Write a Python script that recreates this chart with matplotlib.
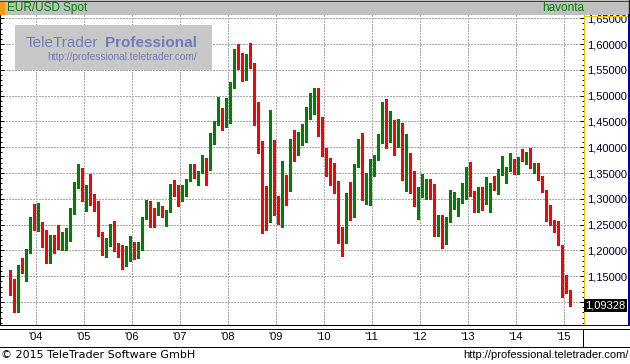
import matplotlib
matplotlib.use("Agg")
import matplotlib.pyplot as plt
from matplotlib.patches import Rectangle
from matplotlib.ticker import FixedLocator, MultipleLocator
import numpy as np
import pandas as pd

# monthly EUR/USD candles, Jul 2003 .. Mar 2015
months = pd.period_range("2003-07", periods=141, freq="M")

opens = [
    1.152, 1.135, 1.101, 1.167, 1.159, 1.200,
    1.250, 1.247, 1.249, 1.228, 1.198, 1.224, 1.220, 1.207, 1.219, 1.244, 1.283, 1.332,
    1.358, 1.306, 1.323, 1.298, 1.286, 1.231, 1.210, 1.212, 1.236, 1.203, 1.200, 1.180,
    1.185, 1.216, 1.192, 1.212, 1.263, 1.282, 1.280, 1.278, 1.282, 1.269, 1.277, 1.325,
    1.319, 1.304, 1.324, 1.338, 1.366, 1.347, 1.355, 1.369, 1.363, 1.427, 1.448, 1.464,
    1.459, 1.485, 1.519, 1.577, 1.562, 1.556, 1.575, 1.560, 1.471, 1.412, 1.273, 1.270,
    1.410, 1.282, 1.267, 1.325, 1.324, 1.414, 1.403, 1.425, 1.433, 1.464, 1.472, 1.501,
    1.430, 1.387, 1.364, 1.352, 1.330, 1.232, 1.225, 1.306, 1.271, 1.364, 1.399, 1.300,
    1.330, 1.369, 1.381, 1.417, 1.482, 1.440, 1.451, 1.438, 1.440, 1.340, 1.385, 1.344,
    1.296, 1.310, 1.333, 1.334, 1.325, 1.238, 1.264, 1.232, 1.259, 1.286, 1.296, 1.300,
    1.321, 1.360, 1.307, 1.282, 1.317, 1.300, 1.300, 1.331, 1.323, 1.354, 1.358, 1.359,
    1.377, 1.350, 1.381, 1.378, 1.387, 1.364, 1.369, 1.340, 1.317, 1.265, 1.247, 1.247,
    1.210, 1.132, 1.119,
]
highs = [
    1.162, 1.144, 1.172, 1.186, 1.203, 1.264,
    1.290, 1.293, 1.256, 1.240, 1.230, 1.230, 1.250, 1.235, 1.242, 1.281, 1.333, 1.367,
    1.360, 1.327, 1.348, 1.310, 1.295, 1.235, 1.225, 1.252, 1.258, 1.215, 1.210, 1.209,
    1.229, 1.217, 1.217, 1.264, 1.298, 1.296, 1.283, 1.294, 1.287, 1.278, 1.329, 1.337,
    1.327, 1.327, 1.338, 1.368, 1.368, 1.354, 1.385, 1.380, 1.428, 1.451, 1.497, 1.477,
    1.495, 1.526, 1.590, 1.601, 1.582, 1.580, 1.603, 1.563, 1.487, 1.412, 1.325, 1.472,
    1.414, 1.305, 1.374, 1.347, 1.417, 1.434, 1.430, 1.445, 1.478, 1.506, 1.514, 1.514,
    1.458, 1.399, 1.380, 1.369, 1.335, 1.246, 1.311, 1.333, 1.368, 1.416, 1.428, 1.350,
    1.377, 1.386, 1.425, 1.488, 1.494, 1.470, 1.453, 1.455, 1.448, 1.425, 1.388, 1.355,
    1.323, 1.349, 1.339, 1.339, 1.328, 1.269, 1.269, 1.264, 1.317, 1.314, 1.301, 1.331,
    1.362, 1.371, 1.315, 1.324, 1.324, 1.342, 1.331, 1.345, 1.357, 1.383, 1.362, 1.389,
    1.377, 1.382, 1.397, 1.390, 1.399, 1.370, 1.370, 1.344, 1.318, 1.289, 1.260, 1.257,
    1.211, 1.153, 1.124,
]
lows = [
    1.114, 1.080, 1.080, 1.156, 1.140, 1.195,
    1.239, 1.238, 1.207, 1.176, 1.176, 1.195, 1.202, 1.200, 1.201, 1.218, 1.271, 1.322,
    1.296, 1.276, 1.288, 1.277, 1.229, 1.191, 1.187, 1.208, 1.199, 1.188, 1.164, 1.170,
    1.180, 1.183, 1.186, 1.200, 1.262, 1.246, 1.246, 1.269, 1.264, 1.248, 1.275, 1.306,
    1.287, 1.295, 1.306, 1.334, 1.341, 1.326, 1.351, 1.326, 1.356, 1.407, 1.443, 1.433,
    1.440, 1.447, 1.514, 1.552, 1.529, 1.530, 1.554, 1.443, 1.388, 1.234, 1.240, 1.256,
    1.268, 1.251, 1.246, 1.289, 1.316, 1.374, 1.385, 1.405, 1.410, 1.455, 1.464, 1.421,
    1.384, 1.344, 1.327, 1.311, 1.215, 1.189, 1.215, 1.259, 1.265, 1.362, 1.298, 1.290,
    1.288, 1.344, 1.375, 1.408, 1.399, 1.410, 1.385, 1.400, 1.336, 1.315, 1.311, 1.286,
    1.262, 1.304, 1.300, 1.300, 1.228, 1.229, 1.205, 1.213, 1.256, 1.280, 1.266, 1.293,
    1.300, 1.305, 1.275, 1.274, 1.279, 1.290, 1.275, 1.318, 1.310, 1.347, 1.330, 1.354,
    1.348, 1.348, 1.374, 1.367, 1.359, 1.350, 1.337, 1.313, 1.257, 1.250, 1.236, 1.210,
    1.110, 1.117, 1.0933,
]
closes = [
    1.123, 1.101, 1.162, 1.161, 1.199, 1.250,
    1.247, 1.249, 1.230, 1.198, 1.222, 1.221, 1.207, 1.218, 1.244, 1.283, 1.332, 1.358,
    1.306, 1.323, 1.298, 1.288, 1.231, 1.210, 1.213, 1.236, 1.203, 1.201, 1.180, 1.185,
    1.216, 1.192, 1.210, 1.263, 1.282, 1.280, 1.278, 1.282, 1.269, 1.277, 1.325, 1.320,
    1.304, 1.324, 1.337, 1.366, 1.350, 1.355, 1.369, 1.365, 1.427, 1.448, 1.464, 1.459,
    1.485, 1.519, 1.577, 1.563, 1.556, 1.575, 1.562, 1.471, 1.413, 1.273, 1.270, 1.410,
    1.282, 1.267, 1.325, 1.324, 1.414, 1.405, 1.425, 1.433, 1.464, 1.472, 1.501, 1.437,
    1.387, 1.362, 1.353, 1.331, 1.232, 1.226, 1.306, 1.271, 1.364, 1.399, 1.300, 1.334,
    1.369, 1.381, 1.417, 1.482, 1.440, 1.448, 1.438, 1.440, 1.340, 1.385, 1.344, 1.296,
    1.310, 1.333, 1.334, 1.325, 1.236, 1.267, 1.232, 1.259, 1.286, 1.296, 1.300, 1.321,
    1.360, 1.307, 1.282, 1.317, 1.300, 1.301, 1.331, 1.323, 1.354, 1.358, 1.359, 1.377,
    1.350, 1.381, 1.378, 1.387, 1.364, 1.369, 1.340, 1.313, 1.265, 1.254, 1.244, 1.210,
    1.132, 1.119, 1.09328,
]

price_ticks = [1.10, 1.15, 1.20, 1.25, 1.30, 1.35, 1.40, 1.45, 1.50, 1.55, 1.60, 1.65]
year_labels = ["'04", "'05", "'06", "'07", "'08", "'09", "'10", "'11", "'12", "'13", "'14", "'15"]

GREEN = "#008000"
RED = "#ff0000"
GRID = "#a8a8a8"
WM = "#6e7db9"
W, H = 630, 364


def px_rect(x0, y0, x1, y1):
    return [x0 / W, 1 - y1 / H, (x1 - x0) / W, (y1 - y0) / H]


fig = plt.figure(figsize=(6.3, 3.64), dpi=100)
fig.patch.set_facecolor("white")

ax = fig.add_axes(px_rect(0, 15, 584, 325))
o = np.array(opens)
h = np.array(highs)
l = np.array(lows)
c = np.array(closes)
x = np.arange(len(o))
cols = np.where(c >= o, GREEN, RED)

# grid
for p in price_ticks:
    ax.axhline(p, color=GRID, lw=0.72, ls=(0, (2, 2)), zorder=1, antialiased=False)
jan_idx = [i for i, m in enumerate(months) if m.month == 1]
year_x = [i + 0.35 for i in jan_idx]
for xv in year_x:
    ax.axvline(xv, color=GRID, lw=0.72, ls=(0, (2, 2)), zorder=1, antialiased=False)

# candles
ax.vlines(x, l, h, colors=cols, linewidth=0.75, antialiased=False, zorder=3)
ax.bar(x, np.maximum(np.abs(c - o), 0.002), bottom=np.minimum(o, c), width=0.75,
       color=cols, linewidth=0, antialiased=False, zorder=4)

ax.set_xlim(-2.575, 143.425)
ax.set_ylim(1.0556, 1.6564)
ax.set_xticks([])
ax.yaxis.set_major_locator(FixedLocator(price_ticks))
ax.yaxis.set_minor_locator(MultipleLocator(0.01))
ax.set_yticklabels([f"{p:.5f}".replace(".", ",") for p in price_ticks])
ax.tick_params(axis="y", which="both", direction="in", left=True, right=True,
               labelleft=False, labelright=True, color="black", width=0.72)
ax.tick_params(axis="y", which="major", length=2.9, pad=2.2, labelsize=8, labelcolor="#000033")
ax.tick_params(axis="y", which="minor", length=1.45)
for lbl in ax.get_yticklabels():
    lbl.set_fontfamily("Liberation Sans")

ax.spines["top"].set_visible(False)
ax.spines["left"].set_color("black")
ax.spines["left"].set_linewidth(1.44)
ax.spines["right"].set_color("#f0c000")
ax.spines["right"].set_linewidth(0.72)
ax.spines["bottom"].set_color("black")
ax.spines["bottom"].set_linewidth(0.72)

# year labels under the plot
for xv, lab in zip(year_x, year_labels):
    ax.text(xv, -12 / 310, lab, transform=ax.get_xaxis_transform(), ha="center", va="center",
            fontsize=8, family="Liberation Sans", color="black", clip_on=False)

# last price box
ax.text(1.0017, closes[-1], f"{closes[-1]:.5f}".replace(".", ","), transform=ax.get_yaxis_transform(),
        ha="left", va="center", color="white", fontsize=8, family="Liberation Sans",
        bbox=dict(boxstyle="square,pad=0.12", fc="black", ec="none"), zorder=6, clip_on=False)

# overlay in pixel coordinates for the frame and texts
ov = fig.add_axes([0, 0, 1, 1], zorder=10)
ov.set_xlim(0, W)
ov.set_ylim(H, 0)
ov.axis("off")

# header
ov.add_patch(Rectangle((0, 0), W, 15, fc="#c0c0c0", ec="none"))
ov.plot([0, W], [0.5, 0.5], color="#404040", lw=0.72)
ov.plot([629.3, 629.3], [0, 15], color="#202020", lw=1.0)
ov.add_patch(Rectangle((0, 1), 5, 14, fc="#f59b16", ec="none"))
ov.text(7, 8, "EUR/USD Spot", color=GREEN, fontsize=8.5, va="center", ha="left", family="Liberation Sans")
ov.text(542, 8, "havonta", color=GREEN, fontsize=8.5, va="center", ha="left", family="Liberation Sans")

# watermark
ov.add_patch(Rectangle((15, 25), 197, 45, fc="#c8c8c8", ec="none"))
ov.text(26, 46.7, "TeleTrader", fontsize=11, color=WM, va="baseline", ha="left", family="Liberation Sans")
ov.text(197, 46.7, "Professional", fontsize=11, color=WM, fontweight="bold", va="baseline", ha="right",
        family="Liberation Sans")
ov.text(197, 60.5, "http://professional.teletrader.com/", fontsize=7.3, color=WM, va="baseline", ha="right",
        family="Liberation Sans")

# right panel frame
ov.plot([584, 629], [15.5, 15.5], color="#f0c000", lw=0.72)
ov.plot([629, 629], [15, 325], color="#0000a0", lw=1.44)
ov.plot([584, 629.5], [324.5, 324.5], color="#0000a0", lw=0.72)

# x label band
ov.plot([0, W], [328.5, 328.5], color="black", lw=0.72)
ov.plot([0, W], [346.5, 346.5], color="black", lw=0.72)
ov.plot([583, 583], [328.5, 346.5], color="black", lw=0.72)

# footer
ov.text(1, 358, "\u00a9 2015 TeleTrader Software GmbH", fontsize=8, va="baseline", ha="left",
        family="DejaVu Sans", color="black")
ov.text(629, 358, "http://professional.teletrader.com/", fontsize=8, va="baseline", ha="right",
        family="Liberation Sans", color="black")

fig.savefig("out.png", dpi=100)
